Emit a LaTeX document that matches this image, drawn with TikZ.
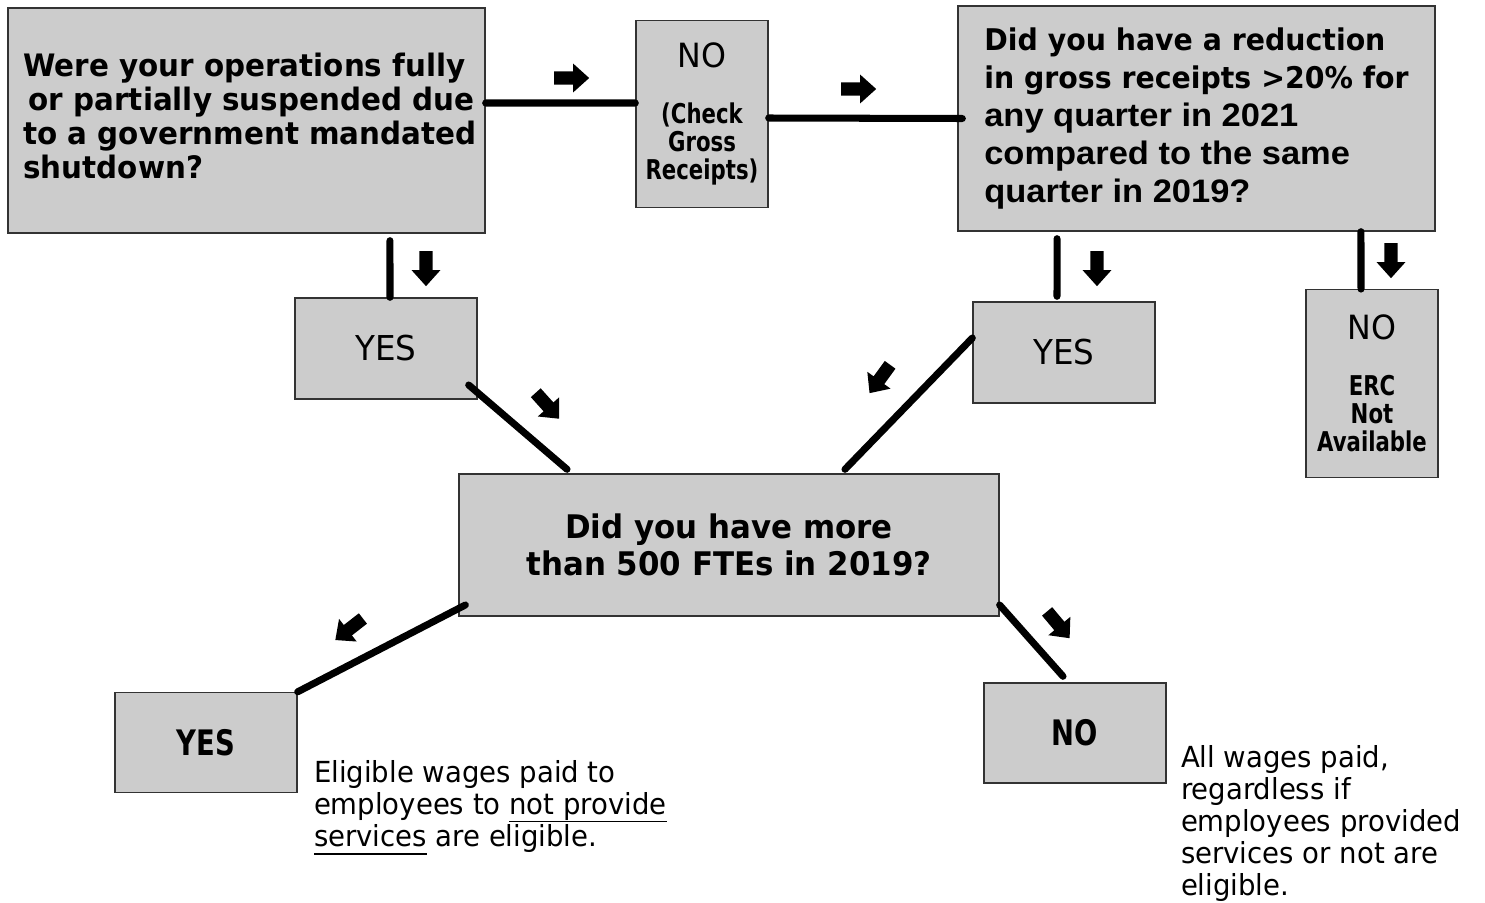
\documentclass[tikz,border=0pt]{standalone}
\usepackage{fontspec}
\setmainfont{DejaVu Sans}[FakeStretch=0.95]
\newfontfamily\narrowfont{DejaVu Sans}[FakeStretch=0.78]
\newfontfamily\arialfont{Liberation Sans}[FakeStretch=1.06]
\usepackage {tikz}
\usetikzlibrary {positioning}
\usetikzlibrary{shapes.arrows}
\definecolor{boxgray}{RGB}{204,204,204}
\newcommand{\sidetext}{\narrowfont\bfseries\fontsize{15.5}{16}\selectfont}
\newcommand{\arialtext}{\arialfont\bfseries\fontsize{18.5}{21.5}\selectfont}
\newsavebox{\undlbox}
\newcommand{\undl}[1]{\sbox{\undlbox}{#1}\rlap{\rule[-4.5pt]{\wd\undlbox}{1pt}}\usebox{\undlbox}}
\tikzset{
	box/.style = {rectangle, draw=black!80, line width=0.8pt, fill=boxgray, inner sep=0pt},
	link/.style = {line width=4pt, line cap=round},
	blockarrow/.style = {single arrow, fill=black, draw=none, inner xsep=0pt, inner ysep=0.125cm,
		minimum height=0.7cm, minimum width=0.56cm, single arrow head extend=0.155cm, single arrow tip angle=84},
	note/.style = {inner sep=0pt, align=left, font=\fontsize{16.5}{18.3}\selectfont}}

\begin{document}
\begin{tikzpicture}[x=0.02cm ,y=-0.02cm ,node distance =0.3cm ,
    answer/.style ={box ,minimum width =3.64cm ,minimum height =2.02cm ,font=\fontsize{19.5}{24}\selectfont},
    final/.style ={box ,minimum width =3.64cm ,minimum height =2cm ,font=\narrowfont\bfseries\fontsize{20}{22}\selectfont},
    side/.style ={box ,minimum width =2.64cm ,minimum height =3.75cm ,align=center ,font=\fontsize{19}{16}\selectfont}
    ]
    \useasboundingbox (0,0) rectangle (1485,903);
    \node[box ,minimum width=9.54cm ,minimum height=4.5cm ,align=left ,font=\bfseries\fontsize{17.6}{19.3}\selectfont] (Q1) at (246.5,120.5)
      {\hspace*{4pt}Were your operations fully\\\hspace*{7pt}or partially suspended due\\\hspace*{4pt}to a government mandated\\\hspace*{4pt}shutdown?\\[-13.6pt]};
    \node[side] (N1) at (702,114)
      {NO\\[16pt]{\sidetext (Check}\\{\sidetext Gross}\\{\sidetext Receipts)}};
    \node[box ,minimum width=9.54cm ,minimum height=4.5cm ,align=left ,font=\fontsize{17}{21.5}\selectfont] (Q2) at (1196.5,118.5)
      {{\bfseries Did you have a reduction}\\{\bfseries in gross receipts >20\% for}\\{\arialtext any quarter in 2021}\\{\arialtext compared to the same}\\{\arialtext quarter in 2019?}};
    \node[answer] (Y1) at (386,348.5) {YES};
    \node[answer] (Y2) at (1064,352.5) {YES};
    \node[side] (N2) at (1372,383.5)
      {NO\\[16pt]{\sidetext ERC}\\{\sidetext Not}\\{\sidetext Available}};
    \node[box ,minimum width=10.8cm ,minimum height=2.84cm ,align=center ,font=\bfseries\fontsize{18.5}{21}\selectfont] (Q3) at (729,545)
      {Did you have more\\than 500 FTEs in 2019?};
    \node[final] (Y3) at (206,742.5) {YES};
    \node[final] (N3) at (1075,733) {NO};
    \node[note ,below right=0.35cm and 0.32cm of Y3.east] (T1)
      {Eligible wages paid to\\employees to \undl{not provide}\\\undl{services} are eligible.};
    \node[note ,below right=0.24cm and 0.28cm of N3.east] (T2)
      {All wages paid,\\regardless if\\employees provided\\services or not are\\eligible.};
    \draw[link] ([yshift=0.35cm]Q1.east) -- ([yshift=0.22cm]N1.west);
    \draw[link] ([yshift=-0.08cm]N1.east) -- ([xshift=0.1cm]Q2.west);
    \draw[link] ([xshift=2.87cm ,yshift=-0.14cm]Q1.south) -- ([xshift=0.08cm]Y1.north);
    \draw[link] ([xshift=-2.79cm ,yshift=-0.14cm]Q2.south) -- ([xshift=-0.14cm ,yshift=0.1cm]Y2.north);
    \draw[link] ([xshift=3.29cm]Q2.south) -- ([xshift=-0.22cm]N2.north);
    \draw[link] ([xshift=-0.18cm ,yshift=-0.73cm]Y1.east) -- ([xshift=-3.24cm ,yshift=0.08cm]Q3.north);
    \draw[link] ([yshift=0.29cm]Y2.west) -- ([xshift=2.32cm ,yshift=0.08cm]Q3.north);
    \draw[link] ([xshift=0.14cm ,yshift=-1.2cm]Q3.west) -- (Y3.north east);
    \draw[link] ([yshift=-1.2cm]Q3.east) -- ([xshift=-0.24cm ,yshift=0.12cm]N3.north);
    \node[blockarrow] (r1) at (568,78) {};
    \node[blockarrow] (r2) at (855,89) {};
    \node[blockarrow ,rotate=-90] (d1) at (426,265) {};
    \node[blockarrow ,rotate=-90] (d2) at (1097,265) {};
    \node[blockarrow ,rotate=-90] (d3) at (1391,257) {};
    \node[blockarrow ,rotate=-48] (d4) at (545,403) {};
    \node[blockarrow ,rotate=-126] (d5) at (882,376) {};
    \node[blockarrow ,rotate=-142] (d6) at (352,627) {};
    \node[blockarrow ,rotate=-50] (d7) at (1056,622) {};
    \end{tikzpicture}
\end{document}
